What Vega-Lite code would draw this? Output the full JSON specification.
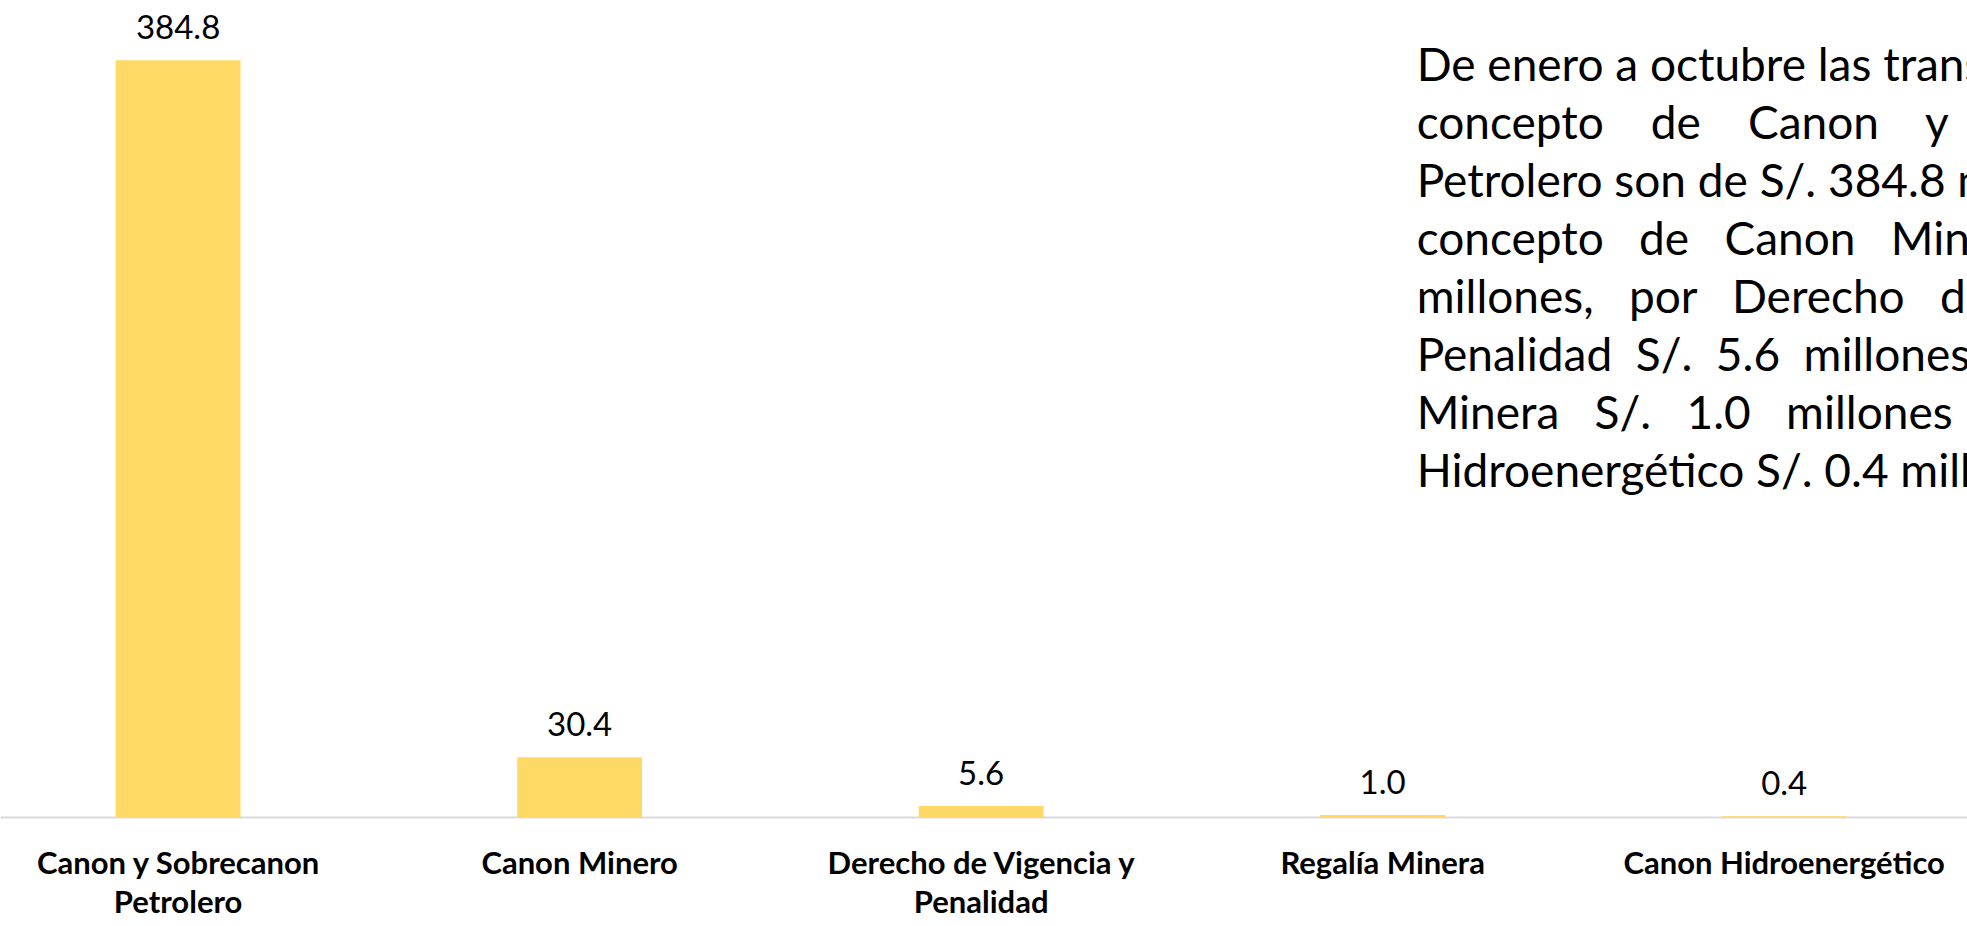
{
  "$schema": "https://vega.github.io/schema/vega-lite/v6.json",
  "width": 1967,
  "height": 817,
  "autosize": {"type": "none"},
  "padding": {"left": 0, "top": 0, "right": 0, "bottom": 109},
  "background": "white",
  "config": {"view": {"stroke": null}, "font": "Lato"},
  "layer": [
    {
      "data": {"values": [
        {"concepto": "Canon y Sobrecanon Petrolero", "monto": 384.8},
        {"concepto": "Canon Minero", "monto": 30.4},
        {"concepto": "Derecho de Vigencia y Penalidad", "monto": 5.6},
        {"concepto": "Regalía Minera", "monto": 1.0},
        {"concepto": "Canon Hidroenergético", "monto": 0.4}
      ]},
      "encoding": {
        "x": {"field": "concepto", "type": "nominal", "sort": null,
          "scale": {"paddingInner": 0.689, "paddingOuter": 0.294, "align": 0.49},
          "axis": {"title": null, "ticks": false, "domainColor": "#d9d9d9", "domainWidth": 2,
            "labelAngle": 0, "labelFont": "Lato", "labelFontWeight": "bold", "labelFontSize": 31,
            "labelColor": "#000000", "labelPadding": 32, "labelLimit": 0, "labelLineHeight": 39,
            "labelOverlap": false,
            "labelExpr": "datum.label == 'Canon y Sobrecanon Petrolero' ? ['Canon y Sobrecanon', 'Petrolero'] : datum.label == 'Derecho de Vigencia y Penalidad' ? ['Derecho de Vigencia y', 'Penalidad'] : datum.label"}},
        "y": {"field": "monto", "type": "quantitative",
          "scale": {"domain": [0, 415.4], "nice": false, "zero": true}, "axis": null}
      },
      "layer": [
        {"mark": {"type": "bar", "color": "#ffd966"}},
        {"mark": {"type": "text", "baseline": "alphabetic", "dy": -21, "fontSize": 33, "font": "Lato", "color": "#000000"},
          "encoding": {"text": {"field": "monto", "type": "quantitative", "format": ".1f"}}}
      ]
    },
    {
      "data": {"values": [
        {"linea": 1, "texto": "De enero a octubre las transferencias por"},
        {"linea": 2, "texto": "concepto\u00a0\u00a0\u00a0\u00a0de\u00a0\u00a0\u00a0\u00a0Canon\u00a0\u00a0\u00a0\u00a0y\u00a0\u00a0\u00a0\u00a0Sobrecanon"},
        {"linea": 3, "texto": "Petrolero son de S/. 384.8 millones, por"},
        {"linea": 4, "texto": "concepto\u00a0\u00a0\u00a0de\u00a0\u00a0\u00a0Canon\u00a0\u00a0\u00a0Minero S/. 30.4"},
        {"linea": 5, "texto": "millones,\u00a0\u00a0\u00a0por\u00a0\u00a0\u00a0Derecho\u00a0\u00a0\u00a0de Vigencia y"},
        {"linea": 6, "texto": "Penalidad\u00a0\u00a0S/.\u00a0\u00a05.6\u00a0\u00a0millones, Regalía"},
        {"linea": 7, "texto": "Minera\u00a0\u00a0\u00a0S/.\u00a0\u00a0\u00a01.0\u00a0\u00a0\u00a0millones\u00a0\u00a0\u00a0y Canon"},
        {"linea": 8, "texto": "Hidroenergético S/. 0.4 millones."}
      ]},
      "mark": {"type": "text", "align": "left", "baseline": "middle", "fontSize": 46, "font": "Lato", "color": "#000000", "dx": 34},
      "encoding": {
        "x": {"datum": "Regalía Minera", "type": "nominal"},
        "y": {"field": "linea", "type": "ordinal", "scale": {"type": "point", "range": [67, 473], "padding": 0}, "axis": null},
        "text": {"field": "texto"}
      }
    }
  ],
  "resolve": {"scale": {"y": "independent"}}
}
